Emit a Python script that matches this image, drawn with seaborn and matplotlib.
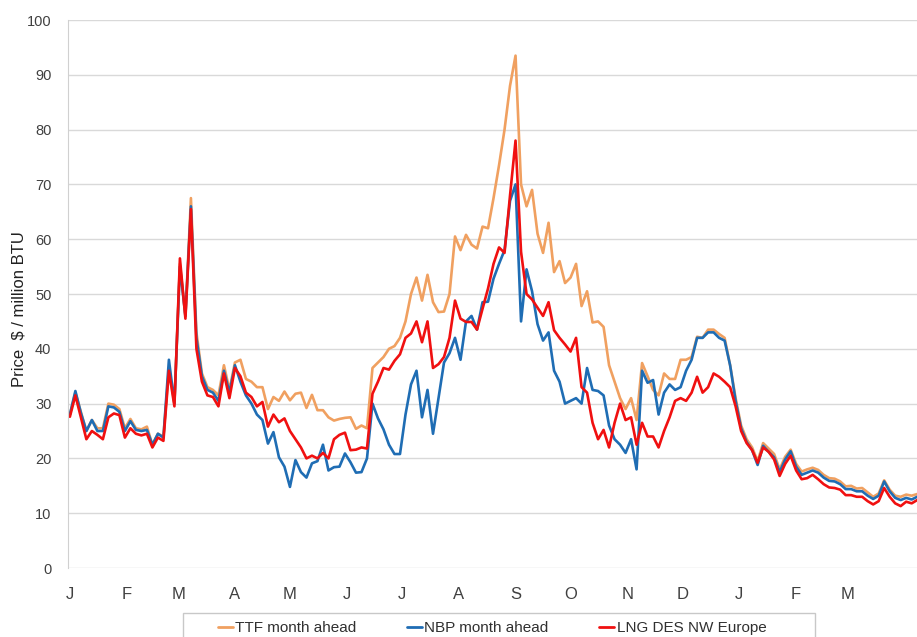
import pandas as pd
import numpy as np
import seaborn as sns
import matplotlib.pyplot as plt
from matplotlib.patches import Rectangle

# values, one point every 3 days from 1 Jan
ttf = [
    28, 32, 28.5, 25, 27, 25.5, 25.5, 30, 29.8, 29,
    25.5, 27.2, 25.5, 25.3, 25.8, 22.5, 24.5, 24, 36.5, 30,
    55.5, 46, 67.5, 43, 35.5, 33, 32.5, 31.5, 37, 32.5,
    37.5, 38, 34.5, 34, 33, 33, 29, 31.2, 30.5, 32.2,
    30.6, 31.8, 32, 29.2, 31.6, 28.8, 28.8, 27.5, 26.9, 27.2,
    27.4, 27.5, 25.4, 26, 25.5, 36.5, 37.5, 38.5, 40, 40.5,
    42, 45, 50, 53, 48.8, 53.5, 48.5, 46.7, 46.8, 50,
    60.5, 58, 60.8, 59, 58.3, 62.3, 62, 67.5, 73.5, 80,
    88, 93.5, 70, 66, 69, 61, 57.5, 63, 54, 56,
    52, 53, 55.5, 47.8, 50.5, 44.8, 45, 44, 37, 34,
    31, 29, 31, 27, 37.4, 35, 32.5, 31.5, 35.5, 34.5,
    34.5, 38, 38, 38.5, 42.2, 42, 43.5, 43.5, 42.7, 42,
    37, 31, 26, 23.5, 22, 19.5, 22.8, 21.8, 20.8, 18,
    20.3, 21.6, 19, 17.6, 18, 18.3, 17.9, 17, 16.4, 16.3,
    15.8, 14.9, 15, 14.5, 14.6, 13.8, 13, 13.6, 16, 14.3,
    13.2, 13, 13.4, 13.2, 13.5,
]
nbp = [
    28, 32.3, 28.3, 25, 27, 25, 25, 29.5, 29.3, 28.5,
    25, 26.8, 25.2, 25, 25.2, 22.5, 24.5, 23.8, 38, 30,
    55, 46, 66, 42, 35, 32.5, 32, 30.5, 36, 32,
    37, 34, 31.5, 30, 28, 27, 22.7, 24.8, 20.2, 18.5,
    14.8, 19.7, 17.5, 16.5, 19.1, 19.5, 22.5, 17.8, 18.4, 18.5,
    20.9, 19.3, 17.4, 17.5, 20, 30, 27.3, 25.3, 22.5, 20.8,
    20.8, 28, 33.5, 36, 27.5, 32.5, 24.5, 31, 37.5, 39.2,
    42, 38, 45, 46, 43.5, 48.5, 48.6, 52.8, 55.5, 58,
    67, 70, 45, 54.5, 50.5, 44.5, 41.5, 43, 36, 34,
    30, 30.5, 31, 30, 36.5, 32.5, 32.3, 31.5, 26, 23.5,
    22.5, 21, 23.5, 18, 36, 33.8, 34.3, 28, 32, 33.5,
    32.5, 33, 36, 38, 42, 42, 43, 43, 42, 41.5,
    37, 30.5, 25.5, 23, 21.5, 18.8, 22.3, 21.2, 20.2, 17.5,
    19.8, 21.3, 18.5, 17, 17.4, 17.8, 17.4, 16.5, 15.9, 15.8,
    15.3, 14.4, 14.4, 14, 14, 13.2, 12.6, 13.2, 15.8, 14,
    12.8, 12.4, 12.8, 12.5, 13,
]
lng = [
    27.6, 31.5, 27.5, 23.5, 25, 24.3, 23.5, 27.5, 28.2, 27.9,
    23.8, 25.5, 24.5, 24.2, 24.5, 22, 23.8, 23.2, 36, 29.5,
    56.5, 45.5, 65.5, 40, 34, 31.5, 31.2, 29.5, 35.5, 31,
    36.5, 35, 32, 31.2, 29.5, 30.3, 25.8, 28, 26.6, 27.3,
    25, 23.5, 22, 20, 20.5, 20, 21, 20, 23.5, 24.3,
    24.7, 21.5, 21.6, 22, 21.8, 31.8, 34, 36.5, 36.2, 37.8,
    39, 42, 42.8, 45, 41.2, 45, 36.5, 37.2, 38.5, 42,
    48.8, 45.5, 44.9, 44.9, 43.5, 47.3, 51, 55.5, 58.5, 57.5,
    68, 78, 57.7, 50, 49, 47.5, 46, 48.5, 43.4, 42,
    40.8, 39.5, 42, 33, 32, 26.5, 23.5, 25.2, 22, 26.5,
    30, 27, 27.5, 22.5, 26.5, 24, 24, 22, 25, 27.5,
    30.5, 31, 30.5, 32, 34.9, 32, 33, 35.5, 34.9, 34,
    33, 29.5, 25, 22.8, 21.5, 19.2, 22, 21.2, 19.8, 16.8,
    19, 20.5, 17.8, 16.2, 16.4, 17, 16.2, 15.3, 14.7, 14.6,
    14.3, 13.3, 13.3, 13, 13, 12.2, 11.6, 12.2, 14.6, 13,
    11.8, 11.3, 12.1, 11.8, 12.4,
]
series_names = ["TTF month ahead", "NBP month ahead", "LNG DES NW Europe"]
colors = ["#F0A060", "#1F6DB4", "#F01010"]
month_labels = ["J", "F", "M", "A", "M", "J", "J", "A", "S", "O", "N", "D", "J", "F", "M"]

dates = pd.date_range("2022-01-01", periods=len(ttf), freq="3D")
df = pd.DataFrame({"date": dates, series_names[0]: ttf, series_names[1]: nbp, series_names[2]: lng})
long_df = df.melt(id_vars="date", var_name="series", value_name="price")

sns.set_style("white")
plt.rcParams['font.family'] = ['Liberation Sans', 'DejaVu Sans']

fig = plt.figure(figsize=(9.17, 6.37), dpi=100)
ax = fig.add_axes([0.0742, 0.1083, 0.926, 0.8603])

sns.lineplot(data=long_df, x="date", y="price", hue="series", hue_order=series_names,
             palette=colors, linewidth=1.9, ax=ax, legend=False)

ax.set_ylim(0, 100)
ax.set_yticks(np.arange(0, 101, 10))
ax.set_xlim(pd.Timestamp("2021-12-31"), pd.Timestamp("2023-04-08"))
month_starts = pd.date_range("2022-01-01", periods=15, freq="MS")
ax.set_xticks(month_starts)
ax.set_xticklabels(month_labels)
ax.grid(axis="y", color="#d9d9d9", linewidth=1)
ax.set_axisbelow(True)
for s in ["top", "right", "bottom"]:
    ax.spines[s].set_visible(False)
ax.spines["left"].set_color("#d0d0d0")
ax.tick_params(axis="y", length=4, color="#d0d0d0", labelsize=10.5, labelcolor="#404040", pad=8)
ax.tick_params(axis="x", length=0, labelsize=12, labelcolor="#404040", pad=14)
ax.set_xlabel("")
ax.set_ylabel("Price  $ / million BTU", fontsize=12, color="#202020")
ax.yaxis.set_label_coords(-0.049, 0.473)

# legend box, Excel style: wider than its entries, entries centred
fig.patches.append(Rectangle((183 / 917, 1 - 645 / 637), 632 / 917, 32 / 637,
                             transform=fig.transFigure, facecolor="white",
                             edgecolor="#c8c8c8", linewidth=1))
handles = [plt.Line2D([], [], color=c, linewidth=2) for c in colors]
leg = fig.legend(handles, series_names, loc="center", bbox_to_anchor=(492 / 917, 1 - 628 / 637),
                 ncol=3, frameon=False, fontsize=11, borderaxespad=0, borderpad=0,
                 handlelength=1.0, handletextpad=0.15, columnspacing=3.3,
                 labelcolor="#303030")

fig.savefig("out.png", dpi=100)
